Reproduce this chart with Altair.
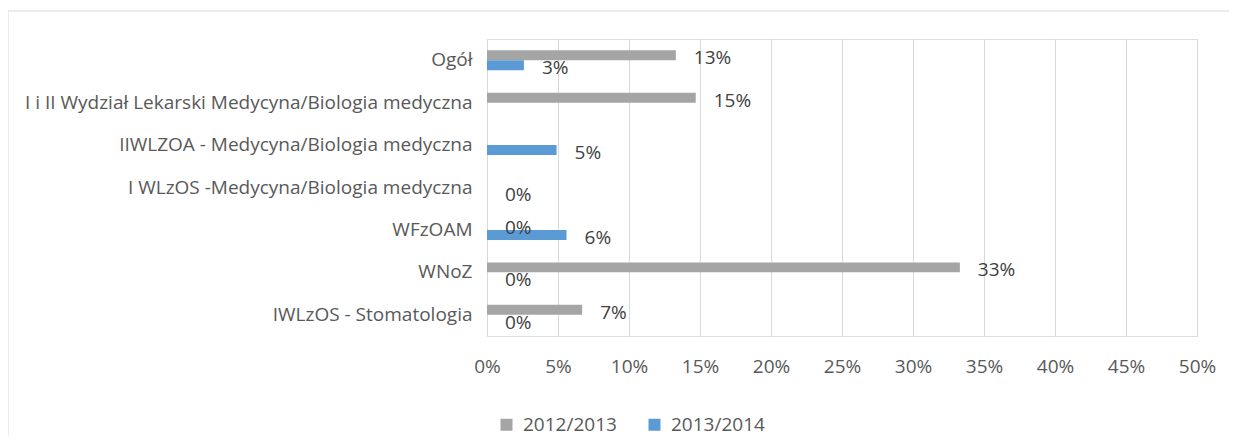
import altair as alt
import pandas as pd

categories = [
    "Ogół",
    "I i II Wydział Lekarski Medycyna/Biologia medyczna",
    "IIWLZOA - Medycyna/Biologia medyczna",
    "I WLzOS -Medycyna/Biologia medyczna",
    "WFzOAM",
    "WNoZ",
    "IWLzOS - Stomatologia",
]
series = ["2012/2013", "2013/2014"]
values_2012 = [0.133, 0.147, None, None, 0.0, 0.333, 0.067]
values_2013 = [0.026, None, 0.049, 0.0, 0.056, 0.0, 0.0]
colors = ["#A5A5A5", "#5B9BD5"]
ticks = [0, 0.05, 0.1, 0.15, 0.2, 0.25, 0.3, 0.35, 0.4, 0.45, 0.5]

rows = []
for s, vals in zip(series, [values_2012, values_2013]):
    for c, v in zip(categories, vals):
        if v is not None:
            rows.append({"cat": c, "series": s, "value": v})
df = pd.DataFrame(rows)

FONT = "Open Sans"
FS_CAT = 19
FS_NUM = 19

y_enc = alt.Y(
    "cat:N",
    sort=categories,
    title=None,
    scale=alt.Scale(paddingInner=0.53, paddingOuter=0.265),
    axis=alt.Axis(
        ticks=False,
        domain=True,
        domainColor="#D9D9D9",
        labelPadding=15,
        labelFontSize=FS_CAT,
        labelColor="#595959",
        labelFont=FONT,
        labelFontWeight="normal",
        labelLimit=600,
    ),
)
x_enc = alt.X(
    "value:Q",
    title=None,
    scale=alt.Scale(domain=[0, 0.5], nice=False),
    axis=alt.Axis(
        values=ticks,
        format=".0%",
        domain=False,
        ticks=False,
        grid=True,
        gridColor="#D9D9D9",
        labelPadding=21,
        labelFlush=False,
        labelFontSize=FS_NUM,
        labelColor="#595959",
        labelFont=FONT,
        labelFontWeight="normal",
    ),
)
yoff = alt.YOffset("series:N", sort=series)

bars = alt.Chart(df).mark_bar().encode(
    y=y_enc,
    x=x_enc,
    yOffset=yoff,
    color=alt.Color(
        "series:N",
        sort=series,
        scale=alt.Scale(domain=series, range=colors),
        legend=alt.Legend(
            title=None,
            orient="none",
            direction="horizontal",
            legendX=10,
            legendY=376,
            symbolType="square",
            symbolSize=144,
            symbolStrokeWidth=0,
            labelFontSize=FS_NUM,
            labelColor="#595959",
            labelFont=FONT,
            labelFontWeight="normal",
            columnPadding=28,
            labelOffset=7,
        ),
    ),
)

labels = alt.Chart(df).mark_text(
    align="left", baseline="middle", dx=18, dy=3, fontSize=FS_NUM, color="#404040",
    font=FONT, fontWeight="normal"
).encode(
    y=alt.Y("cat:N", sort=categories),
    x=alt.X("value:Q"),
    yOffset=yoff,
    text=alt.Text("value:Q", format=".0%"),
)

frame_df = pd.DataFrame({"k": [0]})
frame_left = alt.Chart(frame_df).mark_rule(color="#D9D9D9", strokeWidth=1).encode(
    x=alt.value(-479), y=alt.value(-28), y2=alt.value(420)
)
frame_top = alt.Chart(frame_df).mark_rule(color="#D9D9D9", strokeWidth=1).encode(
    x=alt.value(-479), x2=alt.value(760), y=alt.value(-28)
)

chart = (
    alt.layer(bars, labels, frame_left, frame_top)
    .properties(
        width=710,
        height=297,
        autosize=alt.AutoSizeParams(type="none"),
        padding={"left": 479, "top": 31, "right": 32, "bottom": 100},
    )
    .configure_view(stroke=None)
    .configure(background="white")
)

chart.save("out.html", embed_options={"renderer": "svg", "actions": False})
